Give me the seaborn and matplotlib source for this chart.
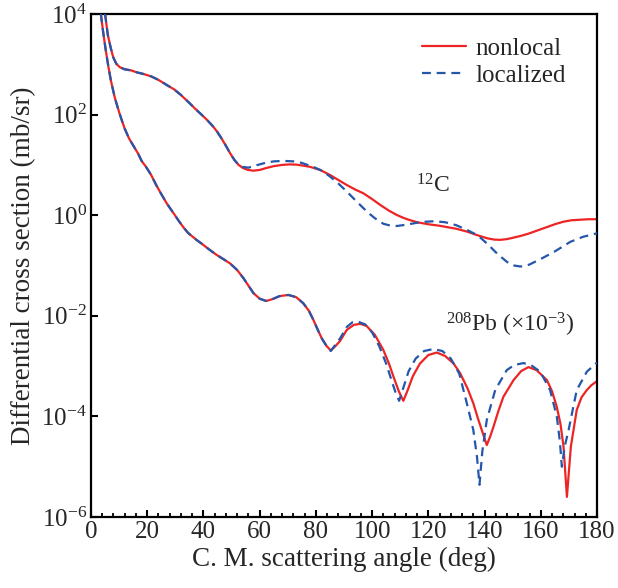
import numpy as np
import pandas as pd
import matplotlib
matplotlib.use("Agg")
import matplotlib.pyplot as plt
from matplotlib.lines import Line2D
from matplotlib.ticker import FixedLocator, MultipleLocator, NullLocator
import seaborn as sns

# ---------------- data (angle in deg, log10 of cross section) ----------------
# 12C: common forward part (both calculations coincide)
c12_common_deg = [4.3, 5.0, 6.0, 7.0, 7.9, 9.0, 10.3, 12, 14.2, 16.3, 18.5, 21.4, 24, 26.9, 29.6,
                  32, 35.2, 37, 39.1, 41, 43.5, 45, 46.5, 48, 49.5, 51, 52.5]
c12_common_log = [4.3, 4.0, 3.58, 3.33, 3.14, 3.01, 2.94, 2.90, 2.88, 2.84, 2.81, 2.76, 2.69, 2.59, 2.50,
                  2.39, 2.22, 2.12, 2.01, 1.91, 1.76, 1.65, 1.52, 1.38, 1.23, 1.10, 1.00]

c12_nonlocal_deg = [54, 55.8, 57.8, 60, 62.5, 65, 68, 70.8, 73, 75, 78, 81.5, 85, 88, 91, 94, 96.9,
                    100, 103, 106, 108.8, 111, 113, 116, 120, 124, 130, 134, 137, 141, 143.5, 145.6,
                    148, 150, 153, 156, 159, 162, 165, 168, 171, 174, 177, 180]
c12_nonlocal_log = [0.94, 0.90, 0.885, 0.90, 0.94, 0.975, 1.0, 1.01, 1.005, 0.99, 0.96, 0.90, 0.80,
                    0.70, 0.60, 0.51, 0.435, 0.32, 0.20, 0.09, 0.004, -0.05, -0.09, -0.14, -0.18,
                    -0.21, -0.27, -0.33, -0.39, -0.46, -0.485, -0.49, -0.475, -0.45, -0.41, -0.36,
                    -0.30, -0.24, -0.18, -0.13, -0.10, -0.09, -0.08, -0.08]

c12_local_deg = [54, 56, 58, 60, 62, 65, 68.4, 72, 75, 77, 79.5, 81.5, 83, 85, 88, 91, 94, 96.9,
                 99, 101, 104, 106, 108.8, 112, 116, 119, 122, 126, 130, 134, 137.2, 139, 141,
                 144.4, 148, 150.5, 152.7, 154.5, 156, 160, 165, 170.5, 175, 180]
c12_local_log = [0.96, 0.945, 0.98, 1.01, 1.04, 1.07, 1.08, 1.07, 1.04, 1.00, 0.95, 0.90, 0.85,
                 0.77, 0.63, 0.47, 0.30, 0.14, 0.03, -0.06, -0.17, -0.20, -0.215, -0.19, -0.15,
                 -0.13, -0.12, -0.14, -0.20, -0.30, -0.39, -0.47, -0.57, -0.76, -0.93, -1.0, -1.02,
                 -1.01, -0.98, -0.87, -0.72, -0.53, -0.43, -0.36]

# 208Pb (x1e-3): common forward part
pb_common_deg = [2.6, 3.5, 4.3, 5.2, 6.1, 7.1, 8.5, 10, 11, 12, 13.5, 15.4, 16.7, 18, 19.7, 21.4,
                 23, 25, 27, 29.6, 31.3, 33, 34.5, 36, 37.5, 39, 42, 44.7, 47, 49.5, 52, 54.2, 56,
                 57.8, 60, 62.3, 64.5, 67, 70.2, 73, 75.5, 77.5, 79.1, 80.6, 82.1, 83.8]
pb_common_log = [4.4, 4.0, 3.65, 3.30, 2.98, 2.67, 2.33, 2.05, 1.88, 1.72, 1.53, 1.35, 1.23, 1.08,
                 0.95, 0.80, 0.62, 0.42, 0.23, 0.02, -0.12, -0.25, -0.35, -0.42, -0.49, -0.55,
                 -0.68, -0.79, -0.87, -0.96, -1.09, -1.25, -1.40, -1.55, -1.66, -1.705, -1.67,
                 -1.61, -1.585, -1.63, -1.75, -1.90, -2.08, -2.27, -2.45, -2.60]

pb_nonlocal_deg = [85.3, 87, 88.6, 91, 93.5, 95.7, 98, 101, 104, 106, 107.6, 109.5, 111.1, 112.5,
                   114.5, 117, 120, 123, 126, 129, 131.3, 134, 136, 137.7, 139, 140.8, 142, 143.2,
                   145, 146.7, 150.3, 153, 155.6, 158.5, 162.2, 164, 165.7, 167, 168.1, 169.3,
                   170.7, 172.8, 174.5, 176.4, 178, 180]
pb_nonlocal_log = [-2.69, -2.60, -2.50, -2.28, -2.18, -2.16, -2.20, -2.38, -2.68, -2.95, -3.21,
                   -3.50, -3.69, -3.50, -3.20, -2.95, -2.78, -2.73, -2.80, -2.95, -3.14, -3.45,
                   -3.74, -4.05, -4.27, -4.57, -4.40, -4.20, -3.88, -3.61, -3.28, -3.10, -3.02,
                   -3.08, -3.28, -3.50, -3.81, -4.15, -4.60, -5.60, -4.60, -3.87, -3.62, -3.475,
                   -3.38, -3.30]

pb_local_deg = [85.3, 87, 88.6, 91, 93, 95.1, 97.5, 100, 102.5, 105, 107, 108.5, 109.6, 111, 113,
                115.5, 118.5, 121.8, 125, 128, 131, 133.7, 136, 137.3, 138.2, 139.2, 140.8, 143.8,
                147.9, 150.5, 153.8, 156.5, 159.8, 163.3, 165.7, 166.8, 167.5, 168.5, 169.9, 172.8,
                176.4, 180]
pb_local_log = [-2.70, -2.57, -2.45, -2.22, -2.13, -2.12, -2.17, -2.33, -2.60, -2.95, -3.30, -3.55,
                -3.69, -3.45, -3.10, -2.85, -2.70, -2.66, -2.70, -2.85, -3.15, -3.74, -4.27, -4.80,
                -5.36, -4.70, -4.07, -3.475, -3.08, -2.98, -2.94, -2.98, -3.11, -3.475, -4.00, -4.50,
                -5.00, -4.60, -4.27, -3.475, -3.11, -2.93]

legend_labels = ["nonlocal", "localized"]
y_tick_exponents = [-6, -4, -2, 0, 2, 4]
x_ticks = [0, 20, 40, 60, 80, 100, 120, 140, 160, 180]

# ---------------- styling ----------------
sns.set_theme(style="ticks")
plt.rcParams["font.family"] = ["Liberation Serif", "DejaVu Serif"]
plt.rcParams["mathtext.fontset"] = "custom"
plt.rcParams["mathtext.rm"] = "Liberation Serif"
plt.rcParams["mathtext.it"] = "Liberation Serif:italic"
plt.rcParams["mathtext.bf"] = "Liberation Serif:bold"
plt.rcParams["xtick.direction"] = "in"
plt.rcParams["ytick.direction"] = "in"

RED = "#EE2424"
BLUE = "#2457AA"
DASH = (0, (4.0, 2.6))

fig = plt.figure(figsize=(6.18, 5.88), dpi=100)
ax = fig.add_axes([91 / 618, 1 - 517 / 588, 506 / 618, 503 / 588])

def make_df(deg, logv):
    return pd.DataFrame({"angle": deg, "xs": np.power(10.0, logv)})

series = [
    (pb_common_deg + pb_nonlocal_deg, pb_common_log + pb_nonlocal_log, RED, "-", 2),
    (pb_common_deg + pb_local_deg, pb_common_log + pb_local_log, BLUE, DASH, 3),
    (c12_common_deg + c12_nonlocal_deg, c12_common_log + c12_nonlocal_log, RED, "-", 2),
    (c12_common_deg + c12_local_deg, c12_common_log + c12_local_log, BLUE, DASH, 3),
]
for deg, logv, col, ls, z in series:
    sns.lineplot(data=make_df(deg, logv), x="angle", y="xs", ax=ax, color=col,
                 linestyle=ls, linewidth=1.6, sort=False, estimator=None, zorder=z)

ax.set_yscale("log")
ax.set_xlim(0, 180)
ax.set_ylim(1e-6, 1e4)

ax.xaxis.set_major_locator(FixedLocator(x_ticks))
ax.xaxis.set_minor_locator(MultipleLocator(4))
ax.set_xticklabels([str(v) for v in x_ticks])
ax.yaxis.set_major_locator(FixedLocator([10.0 ** e for e in y_tick_exponents]))
ax.yaxis.set_minor_locator(NullLocator())
ax.set_yticklabels([r"$\mathregular{10^{%d}}$" % e for e in y_tick_exponents])

ax.tick_params(axis="x", which="major", direction="in", length=5, width=1.5, color="black",
               bottom=True, top=False, labelsize=18, pad=3)
ax.tick_params(axis="x", which="minor", direction="in", length=2.6, width=1.3, color="black",
               bottom=True, top=False)
ax.tick_params(axis="y", which="major", direction="in", length=5, width=1.5, color="black",
               left=True, right=False, labelsize=18, pad=3)
for s in ax.spines.values():
    s.set_visible(True)
    s.set_linewidth(1.6)
    s.set_color("black")

ax.set_xlabel("C. M. scattering angle (deg)", fontsize=19.5, labelpad=3)
ax.set_ylabel("Differential cross section (mb/sr)", fontsize=19.5, labelpad=4)

ax.text(121.5, 10 ** 0.58, r"$\mathregular{^{12}}$C", fontsize=17, ha="center", va="center")
ax.text(149, 10 ** -2.18, r"$\mathregular{^{208}}$Pb (×10$\mathregular{^{-3}}$)", fontsize=17,
        ha="center", va="center")

handles = [Line2D([], [], color=RED, linewidth=1.6, linestyle="-"),
           Line2D([], [], color=BLUE, linewidth=1.6, linestyle=DASH)]
ax.legend(handles, legend_labels, loc="upper right", bbox_to_anchor=(0.974, 0.988),
          frameon=False, fontsize=18, handlelength=1.75, handletextpad=0.4,
          labelspacing=0.16, borderpad=0.2)

fig.savefig("out.png", dpi=100)
